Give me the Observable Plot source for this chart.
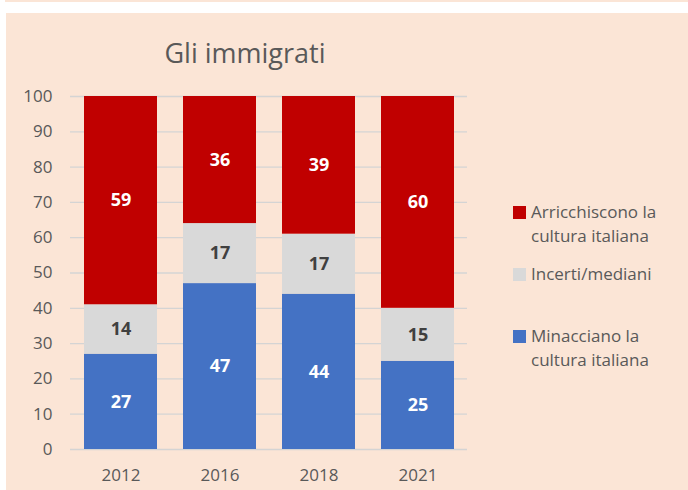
<!DOCTYPE html>
<html>
<head>
<meta charset="utf-8">
<script src="https://cdn.jsdelivr.net/npm/d3@7"></script>
<script src="https://cdn.jsdelivr.net/npm/@observablehq/plot@0.6"></script>
<style>
  html, body { margin: 0; padding: 0; background: #ffffff; }
  #wrap { position: relative; width: 688px; height: 490px; overflow: hidden; background: #ffffff; font-family: "Open Sans", sans-serif; }
  #bg { position: absolute; left: 6px; top: 13px; right: 0; bottom: 0; background: #FBE5D6; }
  #topstrip { position: absolute; left: 5px; top: 0; right: 0; height: 2px; background: #FBE5D6; }
  #chart { position: absolute; left: 0; top: 0; }
  #title { position: absolute; left: 145px; top: 39px; width: 200px; text-align: center; font-size: 27px; line-height: 27px; color: #595959; white-space: nowrap; }
  .leg { position: absolute; left: 513px; width: 170px; font-size: 17px; line-height: 24px; color: #595959; }
  .leg .sw { position: absolute; left: 0; top: 6px; width: 13px; height: 13px; }
  .leg .tx { position: absolute; left: 18px; top: 0; width: 150px; }
</style>
</head>
<body>
<div id="wrap">
  <div id="topstrip"></div>
  <div id="bg"></div>
  <div id="chart"></div>
  <div id="title"></div>
</div>
<script>
const years = ["2012", "2016", "2018", "2021"];
const series = ["Minacciano la cultura italiana", "Incerti/mediani", "Arricchiscono la cultura italiana"];
const colors = ["#4472C4", "#D9D9D9", "#C00000"];
const minacciano = [27, 47, 44, 25];
const incerti = [14, 17, 17, 15];
const arricchiscono = [59, 36, 39, 60];
const yTicks = [0, 10, 20, 30, 40, 50, 60, 70, 80, 90, 100];
const titleText = "Gli immigrati";
const legendOrder = ["Arricchiscono la cultura italiana", "Incerti/mediani", "Minacciano la cultura italiana"];
const legendTops = [199.5, 261.5, 323.5];

const values = [minacciano, incerti, arricchiscono];
const data = [];
series.forEach((s, i) => years.forEach((y, j) => data.push({year: y, series: s, value: values[i][j]})));

const chart = Plot.plot({
  width: 688,
  height: 490,
  marginLeft: 70,
  marginRight: 221,
  marginTop: 96,
  marginBottom: 41,
  style: {background: "transparent", fontFamily: "Open Sans, sans-serif", fontSize: "17px", color: "#595959", overflow: "visible"},
  x: {domain: years, paddingInner: 0.266, paddingOuter: 0.133, label: null, tickSize: 0, tickPadding: 19},
  y: {domain: [0, 100], ticks: yTicks, label: null, tickSize: 0, tickPadding: 18},
  color: {domain: series, range: colors},
  marks: [
    Plot.gridY(yTicks, {stroke: "#d4d4d4", strokeOpacity: 1, strokeWidth: 1.3}),
    Plot.barY(data, Plot.stackY({x: "year", y: "value", fill: "series", z: "series"})),
    Plot.text(data, Plot.stackY({x: "year", y: "value", z: "series",
      text: d => d.series === "Incerti/mediani" ? "" : String(d.value),
      fill: "#ffffff", fontWeight: "bold", fontSize: 18})),
    Plot.text(data, Plot.stackY({x: "year", y: "value", z: "series",
      text: d => d.series === "Incerti/mediani" ? String(d.value) : "",
      fill: "#404040", fontWeight: "bold", fontSize: 18}))
  ]
});
document.getElementById("chart").appendChild(chart);
document.getElementById("title").textContent = titleText;

const wrap = document.getElementById("wrap");
legendOrder.forEach((s, i) => {
  const el = document.createElement("div");
  el.className = "leg";
  el.style.top = legendTops[i] + "px";
  const sw = document.createElement("span");
  sw.className = "sw";
  sw.style.background = colors[series.indexOf(s)];
  const tx = document.createElement("span");
  tx.className = "tx";
  tx.textContent = s;
  el.appendChild(sw);
  el.appendChild(tx);
  wrap.appendChild(el);
});
</script>
</body>
</html>
